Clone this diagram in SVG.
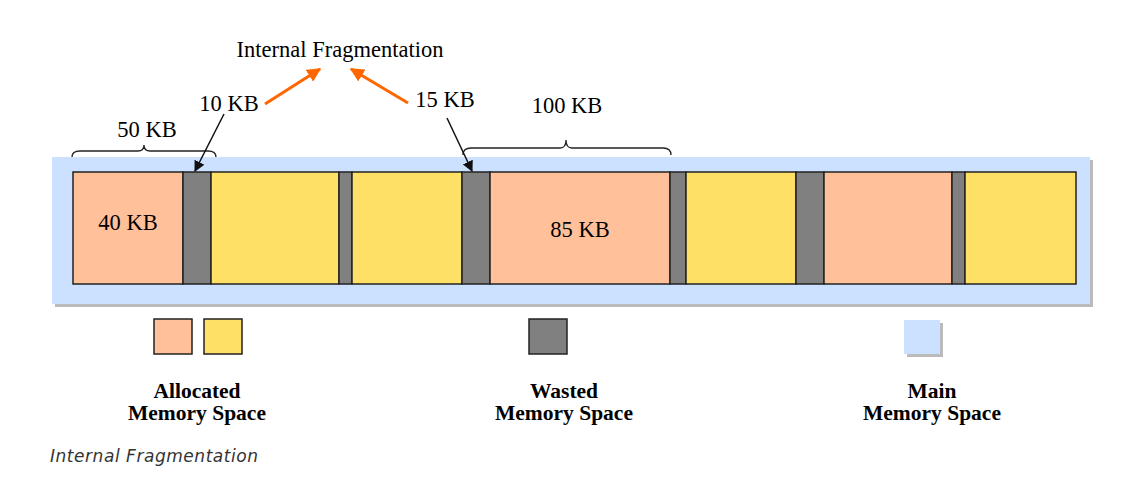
<svg xmlns="http://www.w3.org/2000/svg" width="1125" height="495" viewBox="0 0 1125 495">
<style>
.t{font-family:"Liberation Serif","Times New Roman",serif;font-size:22.5px;fill:#000}
.lg{font-family:"Liberation Serif","Times New Roman",serif;font-size:21.5px;font-weight:bold;fill:#000;text-anchor:middle}
.a{fill:#FFC09A;stroke:#222;stroke-width:1.5}
.y{fill:#FFE066;stroke:#222;stroke-width:1.5}
.w{fill:#808080;stroke:#222;stroke-width:1.5}
.br{fill:none;stroke:#222;stroke-width:1.3}
.ba{stroke:#111;stroke-width:1.5;fill:none}
.oa{stroke:#FF6600;stroke-width:3;fill:none}
</style>
<defs>
<marker id="mb" viewBox="0 0 10 10" refX="9" refY="5" markerWidth="11" markerHeight="11" markerUnits="userSpaceOnUse" orient="auto"><path d="M0,0 L10,5 L0,10 z" fill="#111"/></marker>
<marker id="mo" viewBox="0 0 10 10" refX="9" refY="5" markerWidth="14" markerHeight="14" markerUnits="userSpaceOnUse" orient="auto"><path d="M0,0 L10,5 L0,10 z" fill="#FF6600"/></marker>
</defs>
<rect width="1125" height="495" fill="#fff"/>
<g id="main-memory">
<rect x="55" y="160" width="1038" height="147" fill="#BBBBBB"/>
<rect x="52" y="157" width="1038" height="147" fill="#CCE0FF"/>
</g>
<g id="blocks">
<rect class="a" x="73" y="172" width="110" height="112"/>
<rect class="w" x="183" y="172" width="28" height="112"/>
<rect class="y" x="211" y="172" width="128" height="112"/>
<rect class="w" x="339" y="172" width="13" height="112"/>
<rect class="y" x="352" y="172" width="110" height="112"/>
<rect class="w" x="462" y="172" width="28" height="112"/>
<rect class="a" x="490" y="172" width="180" height="112"/>
<rect class="w" x="670" y="172" width="16" height="112"/>
<rect class="y" x="686" y="172" width="110" height="112"/>
<rect class="w" x="796" y="172" width="28" height="112"/>
<rect class="a" x="824" y="172" width="128" height="112"/>
<rect class="w" x="952" y="172" width="13" height="112"/>
<rect class="y" x="965" y="172" width="111" height="112"/>
<text class="t" x="128" y="230" text-anchor="middle">40 KB</text>
<text class="t" x="580" y="237" text-anchor="middle">85 KB</text>
</g>
<g id="labels">
<text class="t" x="340" y="57" text-anchor="middle">Internal Fragmentation</text>
<text class="t" x="229" y="111" text-anchor="middle">10 KB</text>
<text class="t" x="445" y="107" text-anchor="middle">15 KB</text>
<text class="t" x="147" y="137" text-anchor="middle">50 KB</text>
<text class="t" x="567" y="113" text-anchor="middle">100 KB</text>
</g>
<g id="connectors">
<path class="br" d="M72,157 Q72,151 80,151 L138,151 Q144,151 144,145 Q144,151 150,151 L208,151 Q216,151 216,157"/>
<path class="br" d="M463,155 Q463,148 471,148 L560,148 Q566,148 566,140 Q566,148 572,148 L663,148 Q671,148 671,155"/>
<line class="ba" x1="224" y1="114" x2="195" y2="171" marker-end="url(#mb)"/>
<line class="ba" x1="447" y1="118" x2="472" y2="171" marker-end="url(#mb)"/>
<line class="oa" x1="265" y1="104" x2="320" y2="69" marker-end="url(#mo)"/>
<line class="oa" x1="408" y1="103" x2="351" y2="69" marker-end="url(#mo)"/>
</g>
<g id="legend-allocated">
<rect class="a" x="154" y="319" width="38" height="35"/>
<rect class="y" x="204" y="319" width="38" height="35"/>
<text class="lg" x="197" y="398">Allocated</text>
<text class="lg" x="197" y="420">Memory Space</text>
</g>
<g id="legend-wasted">
<rect class="w" x="529" y="319" width="38" height="35"/>
<text class="lg" x="564" y="398">Wasted</text>
<text class="lg" x="564" y="420">Memory Space</text>
</g>
<g id="legend-main">
<rect x="907" y="323" width="36" height="34" fill="#BBBBBB"/>
<rect x="904" y="320" width="36" height="34" fill="#CCE0FF"/>
<text class="lg" x="932" y="398">Main</text>
<text class="lg" x="932" y="420">Memory Space</text>
</g>
<text x="50" y="462" font-family="'DejaVu Sans',Verdana,sans-serif" font-size="17" font-style="italic" fill="#333" textLength="208" lengthAdjust="spacing">Internal Fragmentation</text>
</svg>
